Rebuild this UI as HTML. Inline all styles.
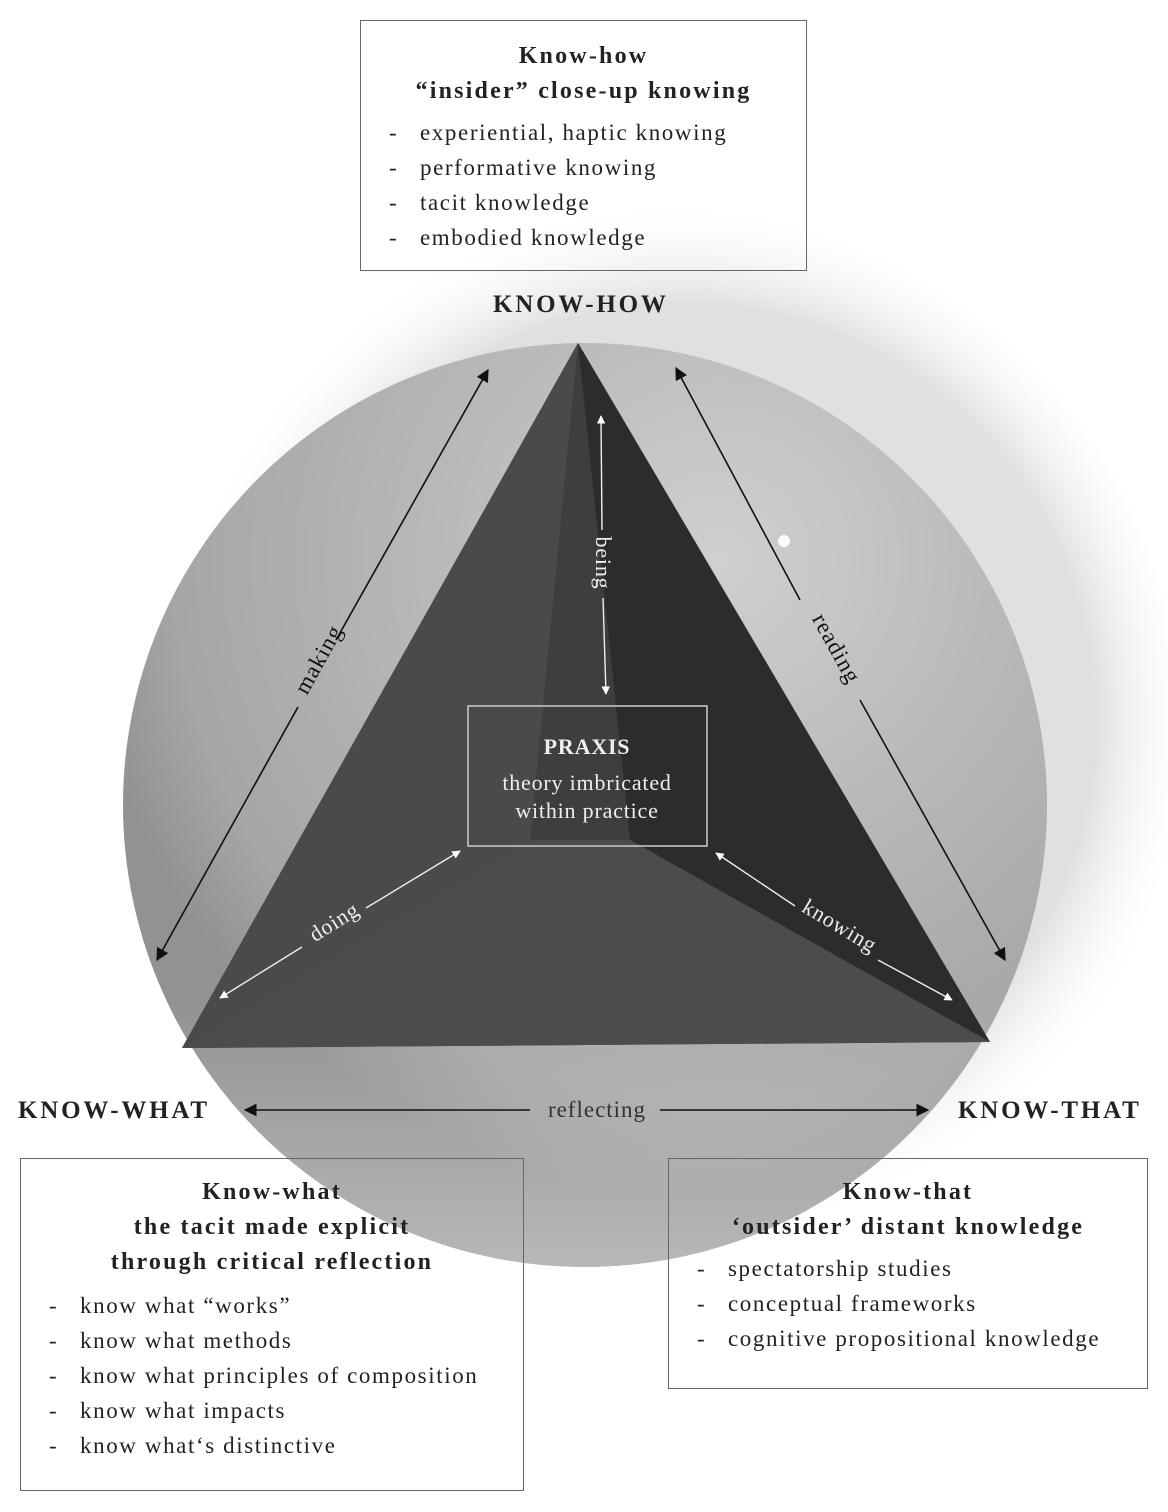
<!DOCTYPE html>
<html><head><meta charset="utf-8"><style>
body{margin:0;width:1168px;height:1512px;background:#fff;position:relative;overflow:hidden;font-family:"Liberation Serif",serif;color:#222}
.box{position:absolute;border:1.5px solid #666;box-sizing:border-box}
.t{text-align:center;font-weight:bold;font-size:24px;line-height:35px;letter-spacing:2.2px}
ul{list-style:none;margin:0;padding:0;font-size:23px;line-height:35px;letter-spacing:1.6px}
li{position:relative;padding-left:59px}
li:before{content:"-";position:absolute;left:28px}
.lab{position:absolute;font-weight:bold;font-size:25px;letter-spacing:2.8px}
</style></head><body>
<svg width="1168" height="1512" style="position:absolute;left:0;top:0">
<defs>
<radialGradient id="sh" cx="680" cy="720" r="520" gradientUnits="userSpaceOnUse">
<stop offset="0.8" stop-color="#999"/><stop offset="1" stop-color="#fff" stop-opacity="0"/></radialGradient>
<radialGradient id="sp" cx="720" cy="560" r="640" gradientUnits="userSpaceOnUse">
<stop offset="0" stop-color="#d0d0d0"/><stop offset="0.5" stop-color="#b6b6b6"/><stop offset="0.85" stop-color="#a6a6a6"/><stop offset="1" stop-color="#929292"/></radialGradient>
<linearGradient id="bt" x1="0" y1="1000" x2="0" y2="1270" gradientUnits="userSpaceOnUse">
<stop offset="0" stop-color="#fff" stop-opacity="0"/><stop offset="1" stop-color="#fff" stop-opacity="0.35"/></linearGradient>
<marker id="a" viewBox="0 0 10 10" refX="9" refY="5" markerWidth="8" markerHeight="8" orient="auto-start-reverse"><path d="M0,0L10,5L0,10z" fill="#111"/></marker>
<marker id="w" viewBox="0 0 10 10" refX="9" refY="5" markerWidth="6" markerHeight="6" orient="auto-start-reverse"><path d="M0,0L10,5L0,10z" fill="#fff"/></marker>
</defs>
<circle cx="660" cy="730" r="520" fill="url(#sh)" opacity="0.3"/>
<circle cx="585" cy="805" r="462" fill="url(#sp)"/>
<circle cx="585" cy="805" r="462" fill="url(#bt)"/>
<polygon points="578,343 182,1048 990,1042" fill="#3e3e3e"/>
<polygon points="578,343 182,1048 530,840" fill="#4a4a4a"/>
<polygon points="578,343 990,1042 630,840" fill="#2c2c2c"/>
<polygon points="182,1048 990,1042 630,840 530,840" fill="#4c4c4c"/>
<circle cx="784" cy="541" r="6" fill="#fff" opacity="0.9"/>
<g stroke="#111" stroke-width="1.6" fill="none">
<line x1="488" y1="370" x2="336" y2="640" marker-start="url(#a)"/>
<line x1="298" y1="707" x2="157" y2="960" marker-end="url(#a)"/>
<line x1="676" y1="368" x2="800" y2="600" marker-start="url(#a)"/>
<line x1="860" y1="700" x2="1005" y2="960" marker-end="url(#a)"/>
<line x1="245" y1="1110" x2="530" y2="1110" marker-start="url(#a)"/>
<line x1="660" y1="1110" x2="928" y2="1110" marker-end="url(#a)"/>
</g>
<g stroke="#eee" stroke-width="1.4" fill="none">
<line x1="601" y1="416" x2="602" y2="530" marker-start="url(#w)"/>
<line x1="603" y1="598" x2="606" y2="694" marker-end="url(#w)"/>
<line x1="220" y1="998" x2="302" y2="947" marker-start="url(#w)"/>
<line x1="366" y1="908" x2="460" y2="851" marker-end="url(#w)"/>
<line x1="716" y1="853" x2="795" y2="906" marker-start="url(#w)"/>
<line x1="878" y1="960" x2="952" y2="1000" marker-end="url(#w)"/>
</g>
<rect x="468" y="706" width="239" height="140" fill="none" stroke="#ccc" stroke-width="1.5"/>
<g font-family="Liberation Serif,serif" font-size="23" fill="#111" letter-spacing="1">
<text x="325" y="663" transform="rotate(-61 325 663)" text-anchor="middle">making</text>
<text x="830" y="652" transform="rotate(61 830 652)" text-anchor="middle">reading</text>
<text x="597" y="1117" text-anchor="middle" fill="#333">reflecting</text>
</g>
<g font-family="Liberation Serif,serif" font-size="22" fill="#eee" text-anchor="middle" letter-spacing="0.8">
<text x="596" y="563" transform="rotate(90 596 563)">being</text>
<text x="338" y="928" transform="rotate(-32 338 928)">doing</text>
<text x="836" y="932" transform="rotate(31 836 932)">knowing</text>
<text x="587" y="754" font-weight="bold">PRAXIS</text>
<text x="587" y="790">theory imbricated</text>
<text x="587" y="818">within practice</text>
</g>
</svg>
<div class="box" style="left:360px;top:20px;width:447px;height:251px;padding-top:18px">
<div class="t">Know-how<br>“insider” close-up knowing</div>
<ul style="margin-top:6px"><li>experiential, haptic knowing</li><li>performative knowing</li><li>tacit knowledge</li><li>embodied knowledge</li></ul></div>
<div class="lab" style="left:493px;top:291px">KNOW-HOW</div>
<div class="lab" style="left:18px;top:1097px">KNOW-WHAT</div>
<div class="lab" style="left:958px;top:1097px">KNOW-THAT</div>
<div class="box" style="left:20px;top:1158px;width:504px;height:333px;padding-top:16px">
<div class="t">Know-what<br>the tacit made explicit<br>through critical reflection</div>
<ul style="margin-top:8px"><li>know what “works”</li><li>know what methods</li><li>know what principles of composition</li><li>know what impacts</li><li>know what‘s distinctive</li></ul></div>
<div class="box" style="left:668px;top:1158px;width:480px;height:231px;padding-top:16px">
<div class="t">Know-that<br>‘outsider’ distant knowledge</div>
<ul style="margin-top:6px"><li>spectatorship studies</li><li>conceptual frameworks</li><li>cognitive propositional knowledge</li></ul></div>
</body></html>
